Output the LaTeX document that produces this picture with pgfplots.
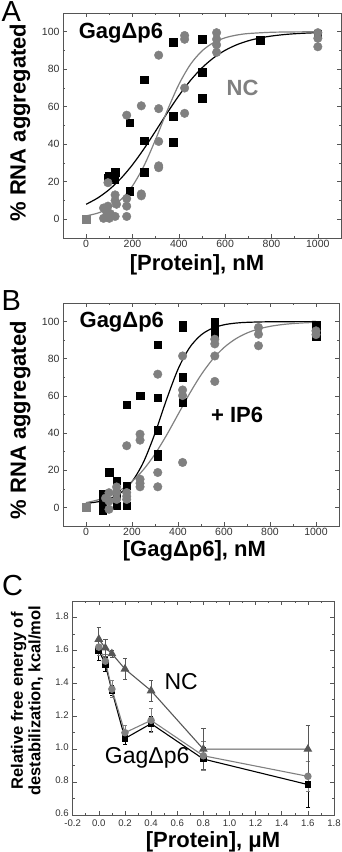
\documentclass[border=0pt]{standalone}
\usepackage{pgfplots}
\pgfplotsset{compat=1.18}
\usepackage{fontspec}
\setmainfont{Liberation Sans}
\definecolor{frame}{HTML}{555555}
\definecolor{ticktext}{HTML}{333333}
\definecolor{mgray}{HTML}{808080}
\definecolor{tgray}{HTML}{575757}
\pgfplotsset{
  myax/.style={
    scale only axis,
    axis line style={draw=frame, line width=0.8pt},
    tick align=inside,
    tick style={draw=frame, line width=0.6pt},
    major tick length=4pt, minor tick length=2.2pt,
    tick label style={font=\fontsize{10.5}{12}\selectfont, text=ticktext},
    /pgf/number format/assume math mode=true,
    /pgf/number format/1000 sep={},
    label style={font=\bfseries\fontsize{22}{24}\selectfont},
  },
  sq/.style={only marks, mark=square*, mark size=3.8pt, mark options={fill=black, draw=black}},
  ci/.style={only marks, mark=*, mark size=4.3pt, mark options={fill=mgray, draw=mgray}},
}
\begin{document}
\begin{tikzpicture}
\useasboundingbox (0pt,0pt) rectangle (342pt,-852pt);
% ---------------- Panel A ----------------
\node[anchor=north west, inner sep=0pt, font=\fontsize{29}{30}\selectfont] at (1.5pt,-1.5pt) {A};
\begin{axis}[myax, at={(63pt,-13pt)}, anchor=north west,
  width=278pt, height=225pt,
  xmin=-100, xmax=1100, ymin=-10, ymax=110,
  xticklabel style={yshift=1pt},
  xtick={0,200,...,1000}, minor xtick={100,300,...,900},
  ytick={0,20,...,100}, minor ytick={10,30,...,90},
  xlabel={[Protein], nM}, ylabel={\% RNA aggregated},
  xlabel style={at={(axis description cs:0.482,-0.12)}, anchor=center},
  ylabel style={at={(axis description cs:-0.155,0.513)}, anchor=center},
]
\addplot[sq] coordinates {
(0,0) (94,22) (100,23) (125,25) (120,21)
(188,51.5) (188,15) (250,74.5) (250,42) (250,25)
(375,94.5) (375,55) (375,41) (500,96) (500,78.5) (500,64.5)
(750,95.5) (1000,99)};
\addplot[ci] coordinates {
(75,6) (75,0.5) (94,19.5) (94,7) (88,4) (100,0.5) (104,3)
(125,13) (125,10) (125,1.5) (131,8)
(175,55.5) (175,11) (175,7) (175,1.5)
(238,60.5) (238,12.5) (238,13.5)
(313,87.5) (313,59) (313,41.5) (313,28.5) (313,27.5)
(425,98) (425,96) (425,70) (425,56.5)
(563,99.5) (563,96) (563,93) (563,89)
(1000,99.5) (1000,96.5) (1000,92)};
\addplot[only marks, mark=square*, mark size=3.8pt, mark options={fill=mgray, draw=mgray}] coordinates {(0,0)};
\addplot[black, line width=1.2pt, smooth] coordinates {
(0,8.0) (50,11.36) (100,15.89) (150,21.77) (200,29.08) (250,37.66) (300,47.10)
(350,56.74) (400,65.90) (450,74.01) (500,80.76) (550,86.08) (600,90.11)
(650,93.07) (700,95.19) (750,96.68) (800,97.72) (850,98.44) (900,98.94)
(950,99.28) (1000,99.51)};
\addplot[mgray, line width=1.2pt, smooth] coordinates {
(0,1.80) (50,3.28) (100,5.92) (150,10.45) (200,17.79) (250,28.63) (300,42.65)
(350,57.96) (400,71.88) (450,82.57) (500,89.78) (550,94.21) (600,96.79)
(650,98.24) (700,99.05) (800,99.72) (900,99.92) (1000,99.98)};
\node[anchor=west, font=\bfseries\fontsize{22}{24}\selectfont] at (axis cs:-47,99.5) {GagΔp6};
\node[anchor=center, text=mgray, font=\bfseries\fontsize{22}{24}\selectfont] at (axis cs:675,70) {NC};
\end{axis}
% ---------------- Panel B ----------------
\node[anchor=north west, inner sep=0pt, font=\fontsize{29}{30}\selectfont] at (1.5pt,-290pt) {B};
\begin{axis}[myax, at={(63pt,-303pt)}, anchor=north west,
  width=276pt, height=223pt,
  xmin=-100, xmax=1100, ymin=-10, ymax=110,
  xticklabel style={yshift=1pt},
  xtick={0,200,...,1000}, minor xtick={100,300,...,900},
  ytick={0,20,...,100}, minor ytick={10,30,...,90},
  xlabel={[GagΔp6], nM}, ylabel={\% RNA aggregated},
  xlabel style={at={(axis description cs:0.476,-0.113)}, anchor=center},
  ylabel style={at={(axis description cs:-0.155,0.475)}, anchor=center},
]
\addplot[sq] coordinates {
(72,-1.5) (72,2.7) (72,7) (100,18.8) (133,14.3) (133,7.2) (133,1)
(177,11.6) (177,1) (177,55.2) (235,60.2)
(312,87.5) (312,59.1) (312,41.6) (312,28.7) (312,27.2)
(420,96.8) (420,98) (420,70) (420,56.5)
(560,100) (560,97) (560,94.5) (560,92.5)
(1000,98) (1000,95) (1000,92)};
\addplot[ci] coordinates {
(100,7.9) (100,3.4) (100,-1) (85,5) (133,8) (133,4.3) (133,11)
(177,33.2) (177,8) (177,4.3) (177,6)
(235,39.4) (235,36.2) (235,15.2) (235,11.1) (235,13)
(312,71.7) (312,18.8) (312,11.1)
(420,81.5) (420,63.2) (420,60.2) (420,24.2)
(560,90.5) (560,88) (560,81.5) (560,67.8)
(750,96.8) (750,93.2) (750,87)
(1000,95) (1000,93)};
\addplot[only marks, mark=square*, mark size=3.8pt, mark options={fill=mgray, draw=mgray}] coordinates {(0,0)};
\addplot[black, line width=1.2pt, smooth] coordinates {
(0,2.21) (50,2.99) (100,4.58) (150,7.78) (200,13.87) (250,24.4) (300,39.9)
(350,58.0) (400,74.37) (450,85.92) (500,92.78) (550,96.44) (600,98.28)
(650,99.18) (700,99.6) (800,99.9) (1000,100)};
\addplot[mgray, line width=1.2pt, smooth] coordinates {
(0,2.57) (50,3.99) (100,6.14) (150,9.34) (200,13.97) (250,20.36) (300,28.72)
(350,38.83) (400,50) (450,61.17) (500,71.28) (550,79.64) (600,86.03)
(650,90.66) (700,93.86) (750,96.01) (800,97.43) (850,98.35) (900,98.95)
(950,99.33) (1000,99.57)};
\node[anchor=west, font=\bfseries\fontsize{22}{24}\selectfont] at (axis cs:-43,99.6) {GagΔp6};
\node[anchor=center, font=\bfseries\fontsize{22}{24}\selectfont] at (axis cs:657,50) {+ IP6};
\end{axis}
% ---------------- Panel C ----------------
\node[anchor=north west, inner sep=0pt, font=\fontsize{29}{30}\selectfont] at (2pt,-575pt) {C};
\begin{axis}[myax, at={(72.7pt,-601pt)}, anchor=north west,
  width=261.3pt, height=214pt,
  xmin=-0.2, xmax=1.8, ymin=0.6, ymax=1.9,
  tick label style={font=\fontsize{9.6}{11}\selectfont, text=ticktext},
  xtick={-0.2,0,0.2,...,1.8}, minor xtick={-0.1,0.1,...,1.7},
  ytick={0.6,0.8,...,1.8}, minor ytick={0.7,0.9,...,1.9},
  xticklabel style={yshift=-1pt, /pgf/number format/.cd, fixed, fixed zerofill, precision=1},
  yticklabel style={xshift=-0.5pt, yshift=1.5pt, /pgf/number format/.cd, fixed, fixed zerofill, precision=1},
  xlabel={[Protein], μM},
  ylabel={Relative free energy of\\destabilization, kcal/mol},
  ylabel style={at={(axis description cs:-0.175,0.533)}, anchor=center, align=center,
    font=\bfseries\fontsize{16.5}{17.5}\selectfont},
  xlabel style={at={(axis description cs:0.537,-0.126)}, anchor=center},
]
\addplot[black, line width=1.1pt, mark=square*, mark size=2.8pt, mark options={fill=black},
  error bars/.cd, y dir=both, y explicit, error bar style={line width=0.7pt, black},
  error mark options={rotate=90, mark size=2.2pt, line width=0.7pt, black}]
coordinates {
(0,1.60) +- (0,0.06)
(0.05,1.515) +- (0,0.045)
(0.1,1.355) +- (0,0.03)
(0.2,1.065) +- (0,0.035)
(0.4,1.155) +- (0,0.045)
(0.8,0.94) +- (0,0.07)
(1.6,0.785) +- (0,0.14)};
\addplot[mgray, line width=1.1pt, mark=*, mark size=3.2pt, mark options={fill=mgray},
  error bars/.cd, y dir=both, y explicit, error bar style={line width=0.7pt, mgray},
  error mark options={rotate=90, mark size=2.2pt, line width=0.7pt, mgray}]
coordinates {
(0,1.62) +- (0,0.05)
(0.05,1.535) +- (0,0.04)
(0.1,1.365) +- (0,0.05)
(0.2,1.10) +- (0,0.045)
(0.4,1.175) +- (0,0.07)
(0.8,0.96) +- (0,0.09)
(1.6,0.835) +- (0,0.09)};
\addplot[tgray, line width=1.1pt, mark=triangle*, mark size=4pt, mark options={fill=tgray},
  error bars/.cd, y dir=both, y explicit, error bar style={line width=0.7pt, tgray},
  error mark options={rotate=90, mark size=2.2pt, line width=0.7pt, tgray}]
coordinates {
(0,1.668) +- (0,0.07)
(0.05,1.615) +- (0,0.05)
(0.1,1.58) +- (0,0.02)
(0.2,1.487) +- (0,0.065)
(0.4,1.355) +- (0,0.065)
(0.8,1.0) +- (0,0.125)
(1.6,1.0) +- (0,0.145)};
\node[anchor=center, font=\fontsize{23}{25}\selectfont] at (axis cs:0.63,1.408) {NC};
\node[anchor=center, font=\fontsize{23}{25}\selectfont] at (axis cs:0.37,0.95) {GagΔp6};
\end{axis}
\end{tikzpicture}
\end{document}
